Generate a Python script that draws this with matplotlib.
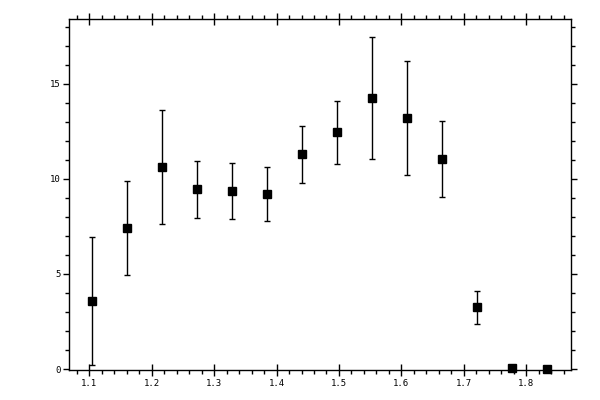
import matplotlib
matplotlib.use("Agg")
import matplotlib.pyplot as plt
from matplotlib.ticker import MultipleLocator

# Data
x_vals = [1.105, 1.161, 1.217, 1.273, 1.329, 1.385, 1.441,
          1.497, 1.553, 1.609, 1.665, 1.721, 1.777, 1.833]
y_vals = [3.58, 7.40, 10.62, 9.46, 9.35, 9.19, 11.30,
          12.46, 14.25, 13.19, 11.04, 3.25, 0.04, 0.00]
y_err = [3.38, 2.47, 3.00, 1.50, 1.47, 1.42, 1.50,
         1.66, 3.20, 3.00, 2.00, 0.88, 0.0, 0.0]

fig = plt.figure(figsize=(6, 4), dpi=100)
ax = fig.add_axes([0.115, 0.076, 0.837, 0.877])

cont = ax.errorbar(x_vals, y_vals, yerr=y_err, fmt="s", color="black",
                   markersize=5.2, elinewidth=1.0, capsize=2.4, capthick=1.0)
for art in cont.lines[:1]:
    art.set_clip_on(False)
    art.set_zorder(5)

ax.set_xlim(1.0675, 1.872)
ax.set_ylim(-0.03, 18.42)

ax.xaxis.set_major_locator(MultipleLocator(0.1))
ax.xaxis.set_minor_locator(MultipleLocator(0.02))
ax.yaxis.set_major_locator(MultipleLocator(5))
ax.yaxis.set_minor_locator(MultipleLocator(1))

ax.tick_params(axis="x", which="major", direction="inout", length=8,
               width=1, top=True, bottom=True, pad=3)
ax.tick_params(axis="x", which="minor", direction="out", length=3,
               width=1, top=True, bottom=True)
ax.tick_params(axis="y", which="major", direction="out", length=4.3,
               width=1, left=True, right=True, pad=1.5)
ax.tick_params(axis="y", which="minor", direction="out", length=3,
               width=1, left=True, right=True)

for lbl in ax.get_xticklabels() + ax.get_yticklabels():
    lbl.set_fontfamily("DejaVu Sans Mono")
    lbl.set_fontsize(6.5)

for sp in ax.spines.values():
    sp.set_linewidth(1.0)

fig.savefig("out.png", dpi=100)
